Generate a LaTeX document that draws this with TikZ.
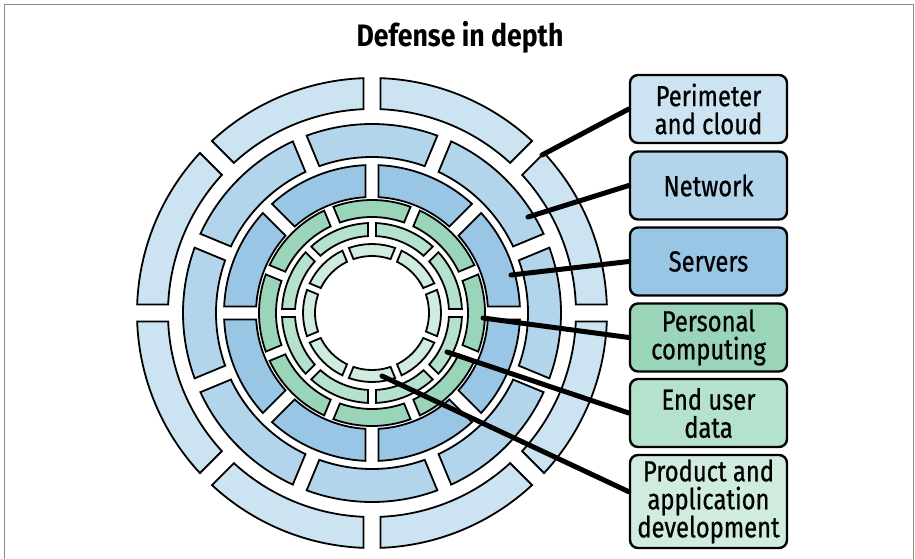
\documentclass[tikz,border=0pt]{standalone}
\usepackage{fontspec}
\setmainfont{Fira Sans}[FakeStretch=0.9]
\newfontfamily\boxfont{Fira Sans}[FakeStretch=0.82,FakeBold=0.7]
\newfontfamily\titlefont{Fira Sans}[FakeStretch=0.86]

\definecolor{perim}{HTML}{CCE3F1}
\definecolor{netw}{HTML}{B3D5EB}
\definecolor{serv}{HTML}{9AC6E5}
\definecolor{pers}{HTML}{9BD5B9}
\definecolor{enduser}{HTML}{B5E2CC}
\definecolor{prod}{HTML}{D0ECDF}
\definecolor{framegray}{HTML}{8A8A8A}

% One ring segment between two gap directions #1 and #2 (degrees),
% radii #3 (inner) and #4 (outer); the gaps have straight, parallel
% sides at distance #5 from the gap direction; fill colour #6.
\newcommand\ringseg[6]{%
  \pgfmathsetmacro\segao{#1+asin(#5/#4)}%
  \pgfmathsetmacro\segbo{#2-asin(#5/#4)}%
  \pgfmathsetmacro\segai{#1+asin(#5/#3)}%
  \pgfmathsetmacro\segbi{#2-asin(#5/#3)}%
  \draw[seg,fill=#6] (\segao:#4) arc[start angle=\segao,end angle=\segbo,radius=#4]
    -- (\segbi:#3) arc[start angle=\segbi,end angle=\segai,radius=#3] -- cycle;
}

\begin{document}
\begin{tikzpicture}[x=1pt,y=-1pt,
  seg/.style={draw=black,line width=1.8pt,line join=miter},
  labelbox/.style={draw=black,line width=2.4pt,rounded corners=8pt,
    minimum width=157pt,minimum height=68pt,align=center,inner sep=1pt,
    font=\boxfont\fontsize{29}{28}\selectfont},
  leader/.style={line width=5pt,line cap=round}]
\useasboundingbox (0,0) rectangle (915,559);

% page frame, open at the bottom
\draw[framegray,line width=1pt] (4,560) -- (4,5) -- (913,5) -- (913,560);

% title
\node[font=\titlefont\bfseries\fontsize{31}{34}\selectfont] (title) at (460,37) {Defense in depth};

% concentric segmented rings
\begin{scope}[shift={(372,313)}]
  \foreach \k in {0,...,7} {
    \ringseg{\k*45}{\k*45+45}{204}{235}{8.5}{perim}
    \ringseg{\k*45+22.5}{\k*45+67.5}{156}{189}{7.5}{netw}
    \ringseg{\k*45}{\k*45+45}{116}{148}{6.5}{serv}
    \ringseg{\k*45+22.5}{\k*45+67.5}{96}{113}{5}{pers}
    \ringseg{\k*45}{\k*45+45}{77}{90}{4}{enduser}
    \ringseg{\k*45+22.5}{\k*45+67.5}{57}{69}{3.5}{prod}
  }
\end{scope}

% label boxes
\node[labelbox,fill=perim]   (b1) at (708.5,109)   {Perimeter\\and cloud};
\node[labelbox,fill=netw]    (b2) at (708.5,185.5) {Network};
\node[labelbox,fill=serv]    (b3) at (708.5,261.5) {Servers};
\node[labelbox,fill=pers]    (b4) at (708.5,337.5) {Personal\\computing};
\node[labelbox,fill=enduser] (b5) at (708.5,413)   {End user\\data};
\node[labelbox,fill=prod,minimum height=93pt] (b6) at (708.5,501.5)
  {Product and\\application\\development};

% points on the rings
\coordinate (p1) at (542,155);
\coordinate (p2) at (528,217);
\coordinate (p3) at (511,275);
\coordinate (p4) at (483,318);
\coordinate (p5) at (447,352);
\coordinate (p6) at (382,376);

% leader lines
\draw[leader] (b1.west) -- (p1);
\draw[leader] (b2.west) -- (p2);
\draw[leader] (b3.west) -- (p3);
\draw[leader] (b4.west) -- (p4);
\draw[leader] (b5.west) -- (p5);
\draw[leader] (b6.173) -- (p6);
\end{tikzpicture}
\end{document}
